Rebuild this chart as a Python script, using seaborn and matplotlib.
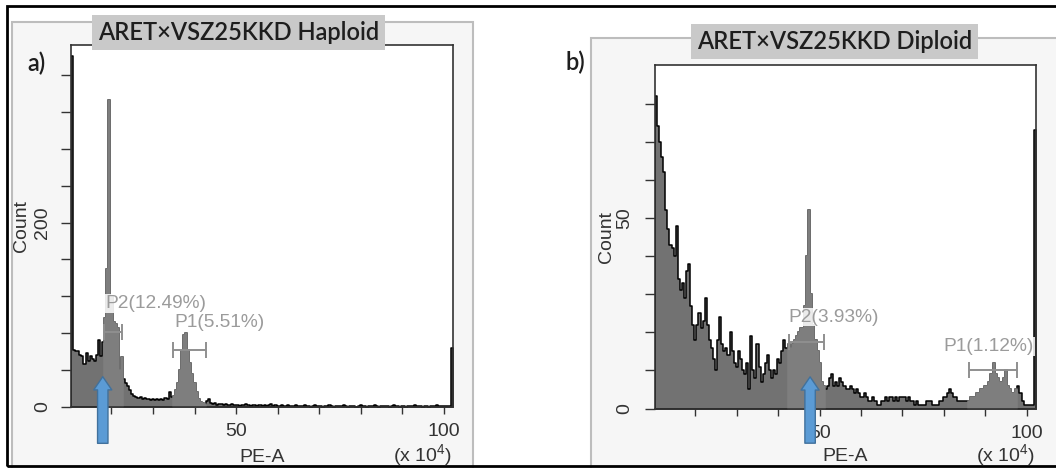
import numpy as np
import pandas as pd
import matplotlib
matplotlib.use("Agg")
import matplotlib.pyplot as plt
import matplotlib.patches as patches
import seaborn as sns

# histogram channels (PE-A, x 10^4), 0.5 wide bins
bin_lo, bin_hi, bin_w = 10.25, 102.25, 0.5
bin_centers = np.arange(bin_lo + bin_w / 2, bin_hi, bin_w)

haploid_counts = [
    381, 62, 61, 60, 56, 55, 46, 58, 50, 55,
    52, 50, 56, 73, 55, 70, 96, 150, 333, 120,
    92, 90, 85, 40, 54, 30, 26, 22, 18, 14,
    12, 10, 9, 10, 8, 9, 8, 8, 7, 8,
    7, 8, 7, 8, 7, 9, 8, 16, 10, 12,
    18, 26, 40, 60, 78, 80, 62, 48, 36, 26,
    16, 8, 5, 4, 3, 6, 8, 4, 3, 4,
    2, 3, 3, 2, 3, 2, 2, 3, 2, 2,
    2, 1, 2, 2, 3, 2, 1, 2, 2, 1,
    2, 2, 1, 2, 1, 2, 3, 1, 2, 1,
    1, 2, 1, 1, 2, 1, 1, 1, 2, 1,
    1, 1, 2, 1, 1, 0, 1, 2, 1, 1,
    1, 0, 1, 1, 2, 1, 0, 1, 1, 1,
    1, 2, 1, 0, 1, 1, 1, 0, 1, 2,
    1, 1, 0, 1, 1, 1, 2, 1, 0, 1,
    1, 1, 1, 0, 1, 2, 1, 1, 0, 1,
    1, 0, 1, 1, 1, 2, 1, 1, 1, 0,
    1, 1, 0, 1, 1, 1, 2, 1, 1, 1,
    1, 1, 1, 64,
]

diploid_counts = [
    82, 74, 70, 66, 62, 52, 47, 43, 42, 40,
    48, 34, 31, 33, 29, 36, 38, 27, 22, 18,
    22, 25, 21, 23, 29, 22, 18, 16, 13, 10,
    18, 24, 17, 15, 16, 14, 20, 15, 12, 11,
    15, 13, 10, 9, 12, 5, 19, 10, 8, 17,
    11, 7, 9, 12, 14, 10, 8, 10, 9, 13,
    12, 15, 18, 16, 17, 16, 17, 18, 19, 20,
    21, 21, 27, 40, 52, 30, 22, 18, 15, 12,
    7, 6, 5, 6, 8, 9, 6, 7, 6, 8,
    7, 6, 5, 5, 6, 5, 4, 5, 4, 3,
    3, 4, 3, 2, 2, 3, 2, 1, 1, 2,
    2, 3, 2, 3, 3, 2, 3, 2, 3, 3,
    3, 2, 3, 2, 2, 1, 2, 1, 1, 1,
    1, 2, 2, 2, 1, 1, 1, 2, 2, 3,
    3, 4, 5, 4, 3, 3, 2, 2, 2, 2,
    2, 2, 3, 3, 3, 4, 4, 5, 5, 6,
    6, 7, 9, 12, 9, 8, 7, 7, 8, 10,
    6, 5, 4, 4, 5, 6, 4, 2, 1, 1,
    1, 1, 1, 73,
]

titles = ["ARET×VSZ25KKD Haploid", "ARET×VSZ25KKD Diploid"]
panel_tags = ["a)", "b)"]

x_ticks = [20, 30, 40, 50, 60, 70, 80, 90, 100]
x_ticklabels = ["", "", "", "50", "", "", "", "", "100"]
a_yticks = [0, 40, 80, 120, 160, 200, 240, 280, 320, 360]
a_yticklabels = ["0", "", "", "", "", "200", "", "", "", ""]
b_yticks = [0, 10, 20, 30, 40, 50, 60, 70, 80]
b_yticklabels = ["0", "", "", "", "", "50", "", "", ""]

# gates: (label, x_lo, x_hi, y)
a_gates = [("P2(12.49%)", 18.1, 22.5, 81), ("P1(5.51%)", 34.8, 42.8, 62)]
b_gates = [("P2(3.93%)", 42.5, 51.0, 17.5), ("P1(1.12%)", 86.0, 97.6, 10)]
a_gate_labels = [(18.5, 112), (35.1, 92)]
b_gate_labels = [(42.5, 24), (79.9, 16.2)]

# blue arrows: x, head y, tail y
a_arrow = (17.9, 32.6, -39.8)
b_arrow = (47.7, 8.3, -9.1)

sns.set_style("white")
plt.rcParams["font.family"] = ["Liberation Sans", "DejaVu Sans"]
plt.rcParams["mathtext.fontset"] = "custom"
plt.rcParams["mathtext.rm"] = "Liberation Sans"
plt.rcParams["mathtext.it"] = "Liberation Sans"

W, H = 1056, 468
fig = plt.figure(figsize=(W / 100, H / 100), dpi=100)
fig.patch.set_facecolor("white")


def fx(px):
    return px / W


def fy(py):
    return 1 - py / H


# panel frames
for (l, t, r) in [(12, 22, 473), (591, 38, 1062)]:
    fig.patches.append(patches.Rectangle((fx(l), fy(472)), fx(r - l), (472 - t) / H,
                                         transform=fig.transFigure, facecolor="#f6f6f6",
                                         edgecolor="#bdbdbd", lw=1.5, zorder=-5))
# outer border
fig.patches.append(patches.Rectangle((fx(7), fy(466)), fx(1060 - 7), (466 - 6) / H,
                                     transform=fig.transFigure, facecolor="none",
                                     edgecolor="black", lw=2, zorder=10))

ax_a = fig.add_axes([fx(71), fy(406.7), fx(382), 361.7 / H])
ax_b = fig.add_axes([fx(655), fy(408.5), fx(381), 343.5 / H])

setups = [
    (ax_a, haploid_counts, 393, a_yticks, a_yticklabels, a_gates, a_gate_labels, a_arrow, 7.2, -0.108),
    (ax_b, diploid_counts, 90.1, b_yticks, b_yticklabels, b_gates, b_gate_labels, b_arrow, 9.0, -0.105),
]

for ax, counts, ytop, yt, ytl, gates, glabels, arrow, ypad, ylab_x in setups:
    df = pd.DataFrame({"pe": bin_centers, "count": counts})
    sns.histplot(data=df, x="pe", weights="count", binwidth=bin_w, binrange=(bin_lo, bin_hi),
                 element="step", fill=True, color="#727272", alpha=1,
                 edgecolor="black", linewidth=1.1, ax=ax)
    # gated populations are shaded a little lighter, without the black outline
    for lab, lo, hi, yv in gates:
        inside = (df["pe"] >= lo) & (df["pe"] <= hi)
        sub = df[inside]
        sns.histplot(data=sub, x="pe", weights="count", binwidth=bin_w,
                     binrange=(sub["pe"].min() - bin_w / 2, sub["pe"].max() + bin_w / 2),
                     element="step", fill=True, color="#7e7e7e", alpha=1,
                     edgecolor="#7e7e7e", linewidth=1.1, ax=ax)
    ax.set_facecolor("white")
    ax.set_xlim(bin_lo, bin_hi)
    ax.set_ylim(0, ytop)
    for s in ax.spines.values():
        s.set_color("#333333")
        s.set_linewidth(1.2)
    ax.set_xticks(x_ticks)
    ax.set_xticklabels(x_ticklabels)
    ax.set_yticks(yt)
    ax.set_yticklabels(ytl, rotation=90, va="center")
    ax.tick_params(axis="x", direction="out", length=5, width=1, color="#333333",
                   labelsize=14, labelcolor="#333333", pad=7, bottom=True)
    ax.tick_params(axis="y", direction="out", length=7, width=1, color="#333333",
                   labelsize=14, labelcolor="#333333", pad=ypad, left=True)
    ax.set_xlabel("")
    ax.set_ylabel("Count", fontsize=14, color="#333333")
    ax.yaxis.set_label_coords(ylab_x, 0.5)
    ax.text(0.5, -0.14, "PE-A", transform=ax.transAxes, ha="center", va="center",
            fontsize=14, color="#333333")
    ax.text(0.919, -0.135, "(x 10$^4$)", transform=ax.transAxes, ha="center", va="center",
            fontsize=14, color="#333333")

    for (lab, lo, hi, yv), (lx, ly) in zip(gates, glabels):
        ax.errorbar([(lo + hi) / 2], [yv], xerr=[(hi - lo) / 2], fmt="none",
                    ecolor="#8f8f8f", elinewidth=1.4, capsize=6, capthick=1.4, zorder=4)
        ax.text(lx, ly, lab, ha="left", va="center", fontsize=13.8, color="#9b9b9b", zorder=5,
                bbox=dict(boxstyle="square,pad=0.05", fc="white", ec="none", alpha=0.85))

    xa, yh, yt0 = arrow
    ax.annotate("", xy=(xa, yh), xytext=(xa, yt0), annotation_clip=False,
                arrowprops=dict(arrowstyle="simple,head_length=0.95,head_width=1.3,tail_width=0.75",
                                mutation_scale=10, fc="#5b9bd5", ec="#41719c", lw=1,
                                shrinkA=0, shrinkB=0),
                zorder=8)

# titles and panel tags
for txt, (cx, cy) in zip(titles, [(238.3, 32.2), (834.5, 41.7)]):
    fig.text(fx(cx), fy(cy), txt, ha="center", va="center", fontsize=17,
             family=["Lato", "DejaVu Sans"], fontweight="semibold", color="#1e1e1e",
             bbox=dict(boxstyle="square,pad=0.25", fc="#c9c9c9", ec="none"))
for txt, (cx, cy) in zip(panel_tags, [(36, 63), (575, 62)]):
    fig.text(fx(cx), fy(cy), txt, ha="center", va="center", fontsize=17,
             family=["Lato", "DejaVu Sans"], fontweight="semibold", color="#1e1e1e")

fig.savefig("out.png", dpi=100)
